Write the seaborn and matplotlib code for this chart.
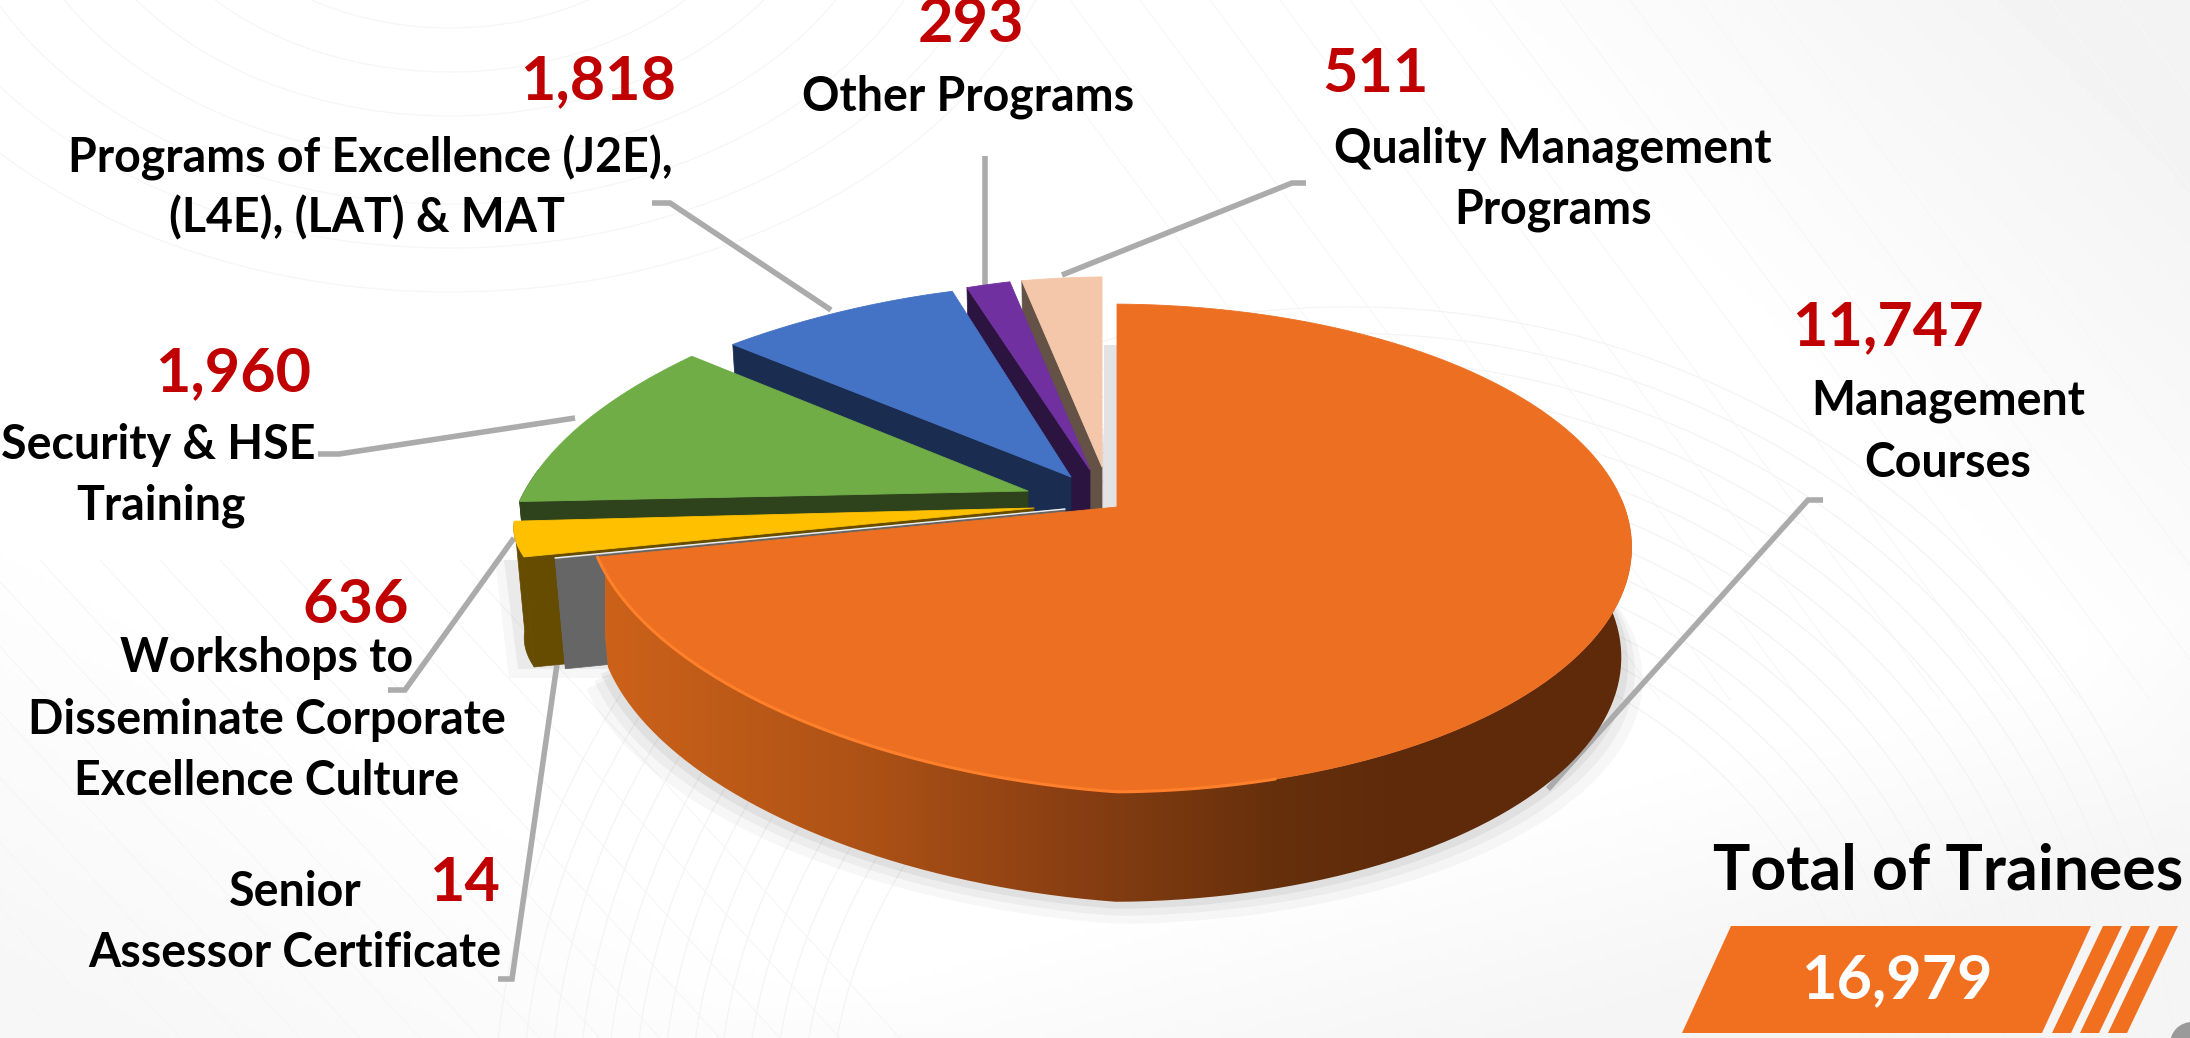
import numpy as np
import matplotlib
matplotlib.use("Agg")
import matplotlib.pyplot as plt
import seaborn as sns
from matplotlib.colors import LinearSegmentedColormap
from matplotlib.patches import Polygon, Circle

# values, clockwise from the top of the pie
categories = ["Management Courses", "Senior Assessor Certificate",
              "Workshops to Disseminate Corporate Excellence Culture",
              "Security & HSE Training", "Programs of Excellence (J2E), (L4E), (LAT) & MAT",
              "Other Programs", "Quality Management Programs"]
trainees = [11747, 14, 636, 1960, 1818, 293, 511]

top_colors = ["#ED7022", "#8C8C8C", "#FFC000", "#70AD47", "#4472C4", "#7030A0", "#F4C7AB"]
side_colors = ["#8A3F12", "#666666", "#654C00", "#2E431C", "#1A2D50", "#2C1440", "#635245"]

# apex x, apex y, width scale, depth scale, shear for each exploded slice
apex_x = [1117, 1065, 1034, 1028, 1071, 1090, 1102]
apex_y = [507, 509, 508, 491, 477, 470, 467]
scale_x = [515, 505, 505, 494, 497, 515, 515]
scale_y = [237, 142, 142, 257, 226, 227, 222]
shear = [-41, -5, -5, -22, -40, -23, -37]

PERSP = 0.168
YAW = 0.015
DEPTH = 110
TAPER = 0.98

# text: string, x, y
value_pos = [(1888, 327), (464, 883), (356, 605), (233, 373), (598, 81), (971, 24), (1376, 74)]
name_lines = [("Management", 1948, 401), ("Courses", 1948, 463),
              ("Senior", 295, 892), ("Assessor Certificate", 295, 953),
              ("Workshops to", 267, 658), ("Disseminate Corporate", 267, 720),
              ("Excellence Culture", 267, 781),
              ("Security & HSE", 158, 445), ("Training", 161, 506),
              ("Programs of Excellence (J2E),", 370, 158), ("(L4E), (LAT) & MAT", 367, 218),
              ("Other Programs", 968, 97),
              ("Quality Management", 1553, 149), ("Programs", 1553, 210)]

leaders = [[(1823, 500), (1808, 500), (1548, 789)],
           [(498, 979), (512, 979), (557, 664)],
           [(388, 690), (405, 690), (514, 538)],
           [(318, 454), (339, 454), (575, 418)],
           [(652, 203), (670, 203), (831, 310)],
           [(985, 156), (985, 286)],
           [(1306, 183), (1292, 183), (1062, 275)]]

sns.set_theme(style="white")
plt.rcParams["font.family"] = ["Lato", "DejaVu Sans"]

fig = plt.figure(figsize=(21.9, 10.38), dpi=100)
ax = fig.add_axes([0, 0, 1, 1])

# pale background with faint swirl lines
yy, xx = np.mgrid[0:1038:200j, 0:2190:400j]
shade = 1 - 0.05 * np.clip((xx - 1500) / 700 - (yy - 100) / 700, 0, 1) \
    - 0.035 * np.clip((yy - 500) / 500 - xx / 900, 0, 1) \
    - 0.04 * np.clip((yy - 800) / 240 + (xx - 1500) / 900, 0, 1)
ax.imshow(shade, extent=[0, 2190, 1038, 0], cmap="gray", vmin=0, vmax=1, aspect="auto", zorder=0)
t = np.linspace(0, 2 * np.pi, 300)
for rad in range(60, 460, 40):
    ax.plot(450 + rad * 1.5 * np.cos(t), -170 + rad * 1.1 * np.sin(t), color="#F6F6F6", lw=0.9, zorder=1)
for rad in range(520, 860, 28):
    ax.plot(1350 + rad * np.cos(t), 1120 + rad * 0.95 * np.sin(t), color="#F4F4F4", lw=0.9, zorder=1)
for off in range(1000, 2300, 70):
    ax.plot([off, off + 520], [0, 700], color="#F7F7F7", lw=0.8, zorder=1)
for off in range(-500, 500, 60):
    ax.plot([off, off + 440], [560, 1038], color="#F6F6F6", lw=0.8, zorder=1)


def project(theta, i):
    # pie angle (deg clockwise from top) to picture position for slice i
    rad = np.radians(theta)
    xs, ys = np.sin(rad), np.cos(rad)
    dent = np.where(theta > 263, 1 - 0.11 * np.sin(np.pi * np.clip(theta - 263, 0, 97) / 97), 1.0)
    den = 1 + PERSP * ys + YAW * xs
    px = scale_x[i] * xs * dent / den
    py = (scale_y[i] * ys + shear[i] * np.minimum(xs, 0)) * dent / den
    return apex_x[i] + px, apex_y[i] - py


def extrude(x, y, i):
    return apex_x[i] + (x - apex_x[i]) * TAPER, y + DEPTH


angles = np.cumsum([0] + trainees) / sum(trainees) * 360
palette = sns.color_palette(top_colors)
side_palette = sns.color_palette(side_colors)

for line in leaders:
    xs, ys = zip(*line)
    ax.plot(xs, ys, color="#ABABAB", lw=4.0, solid_joinstyle="miter", solid_capstyle="butt", zorder=3)

# soft shadow under the big slice and the left edge slices
ox = np.linspace(0, angles[1], 240)
sx, sy = project(ox, 0)
bx, by = extrude(sx, sy, 0)
for grow, alpha in [(22, 0.03), (14, 0.04), (7, 0.05)]:
    ax.add_patch(Polygon(np.c_[apex_x[0] + (bx - apex_x[0]) * (1 + grow / 520), by + grow], closed=True,
                         fc="black", ec="none", alpha=alpha, zorder=2))
for grow, alpha in [(18, 0.03), (9, 0.05)]:
    ax.add_patch(Polygon([(527 - grow, 660 + grow), (620, 660 + grow), (620, 560), (513 - grow, 560)],
                         closed=True, fc="black", ec="none", alpha=alpha, zorder=2))
# sliver of shadow between the peach slice and the orange slice
ax.add_patch(Polygon([(1104, 345), (1117, 345), (1117, 507), (1104, 510)], closed=True, fc="#E3E3E3", ec="none", zorder=2))

# back to front
for i in [6, 5, 4, 3, 2, 1, 0]:
    z = 10 + (6 - i)
    a0, a1 = angles[i], angles[i + 1]
    th = np.linspace(a0, a1, 160)
    tx, ty = project(th, i)
    ex, ey = extrude(tx, ty, i)
    if i != 0:
        # cut face along the lower radial edge
        ax0, ay0 = apex_x[i], apex_y[i]
        bx0, by0 = extrude(tx[0], ty[0], i)
        ax.add_patch(Polygon([(ax0, ay0), (tx[0], ty[0]), (bx0, by0), (ax0, ay0 + DEPTH)], closed=True,
                             fc=side_palette[i], ec=side_palette[i], lw=0.5, joinstyle="round", zorder=z))
    if a0 < 270:
        keep = th < 270
        wall = np.r_[np.c_[tx[keep], ty[keep]], np.c_[ex[keep], ey[keep]][::-1]]
        if i == 0:
            wall_patch = Polygon(wall, closed=True, fc="none", ec="none", zorder=z)
            ax.add_patch(wall_patch)
            stops = [(0.0, "#CC621A"), (0.25, "#AD5216"), (0.45, "#8A3F12"),
                     (0.65, "#66300C"), (0.78, "#5E2A0A"), (1.0, "#5E2A0A")]
            cmap = LinearSegmentedColormap.from_list("wall", stops)
            im = ax.imshow(np.linspace(0, 1, 512)[None, :], extent=[605, 1635, 910, 500], cmap=cmap,
                           aspect="auto", zorder=z)
            im.set_clip_path(wall_patch)
        else:
            ax.add_patch(Polygon(wall, closed=True, fc=side_palette[i], ec=side_palette[i], lw=0.5, zorder=z))
    face = np.r_[[(apex_x[i], apex_y[i])], np.c_[tx, ty]]
    ax.add_patch(Polygon(face, closed=True, fc=palette[i], ec=palette[i], lw=0.6, joinstyle="round", zorder=z + 0.5))
    if i == 0:
        rim = np.linspace(165, a1, 120)
        rx, ry = project(rim, 0)
        ax.plot(rx, ry, color="#FF7F2A", lw=2.2, zorder=z + 0.6)
    if i == 1:
        ax.plot(tx[-1:].tolist() + [apex_x[i]], ty[-1:].tolist() + [apex_y[i]], color="#EDEDED", lw=1, zorder=z + 0.6)

# labels
for value, (x, y) in zip(trainees, value_pos):
    ax.text(x, y, f"{value:,}", color="#C00000", fontsize=44, fontweight="bold", ha="center", va="center", zorder=30)
for text, x, y in name_lines:
    ax.text(x, y, text, color="black", fontsize=33.5, fontweight="bold", ha="center", va="center", zorder=30)

# total box
ax.text(1948, 872, "Total of Trainees", color="black", fontsize=45, fontweight="bold", ha="center", va="center", zorder=30)
orange = "#F07020"
ax.add_patch(Polygon([(1731, 926), (2091, 926), (2042, 1033), (1682, 1033)], closed=True, fc=orange, ec="none", zorder=20))
for top_l, top_r, bot_l, bot_r in [(2103, 2122, 2052, 2071), (2131, 2150, 2080, 2099), (2159, 2178, 2108, 2127)]:
    ax.add_patch(Polygon([(top_l, 926), (top_r, 926), (bot_r, 1033), (bot_l, 1033)], closed=True, fc=orange, ec="none", zorder=20))
ax.text(1897, 980, f"{sum(trainees):,}", color="white", fontsize=44, fontweight="bold", ha="center", va="center", zorder=30)
ax.add_patch(Circle((2192, 1044), 22, fc="#9A9A9A", ec="none", zorder=20))

ax.set_xlim(0, 2190)
ax.set_ylim(1038, 0)
ax.axis("off")
fig.savefig("out.png", dpi=100)
